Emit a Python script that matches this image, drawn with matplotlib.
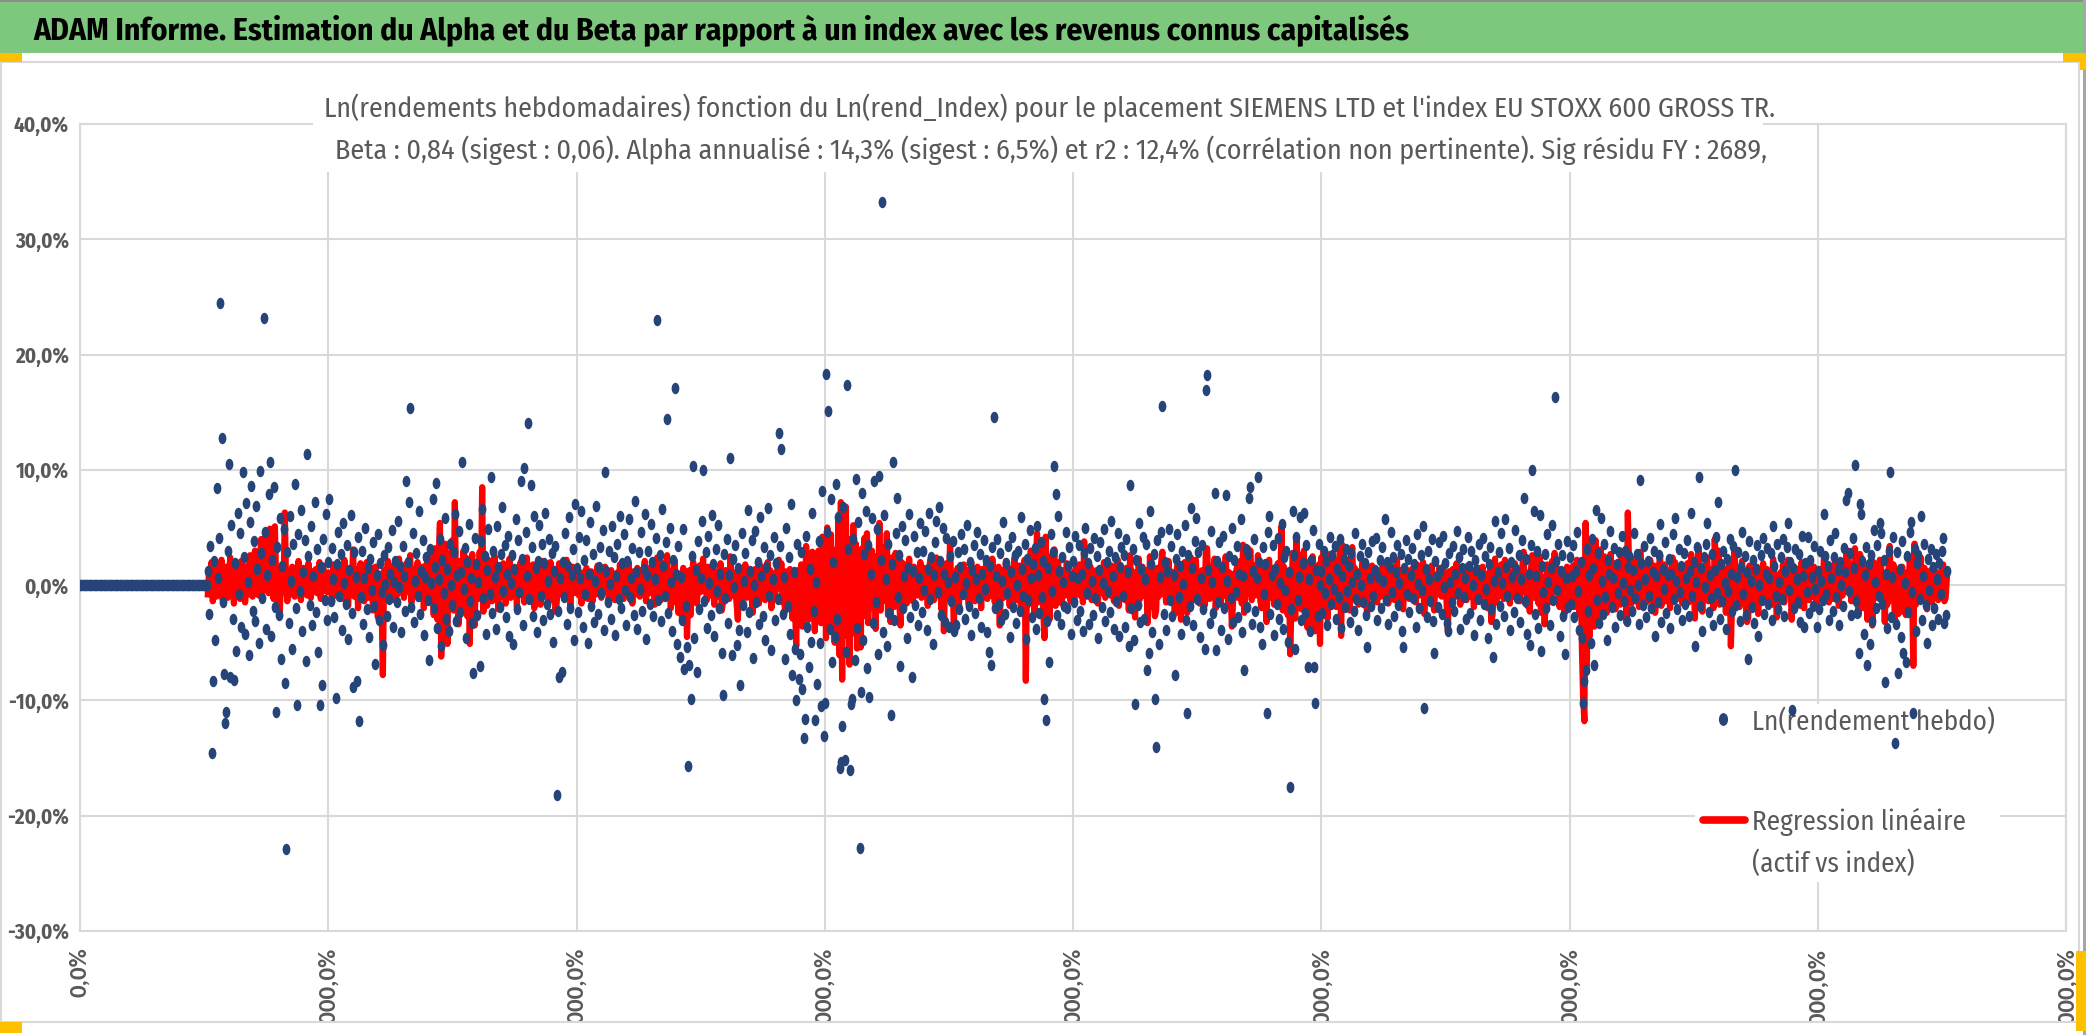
import numpy as np
import matplotlib.pyplot as plt
from matplotlib import font_manager
from matplotlib.patches import Rectangle
from matplotlib.lines import Line2D
from matplotlib.path import Path
from matplotlib.transforms import Affine2D
from matplotlib.ticker import FuncFormatter, MultipleLocator

# --- dimensions (pixels) ---
W, H = 2086, 1035
DPI = 100

# --- textes ---
TITRE = ("ADAM Informe. Estimation du Alpha et du Beta par rapport à un index "
         "avec les revenus connus capitalisés")
SOUS_TITRE_1 = ("Ln(rendements hebdomadaires) fonction du Ln(rend_Index) pour le placement "
                "SIEMENS LTD et l'index EU STOXX 600 GROSS TR.")
SOUS_TITRE_2 = ("Beta : 0,84 (sigest : 0,06). Alpha annualisé : 14,3% (sigest : 6,5%) et r2 : "
                "12,4% (corrélation non pertinente). Sig résidu FY : 2689,")
LEGENDE_1 = "Ln(rendement hebdo)"
LEGENDE_2 = "Regression linéaire"
LEGENDE_3 = "(actif vs index)"

# --- données (en %) ---
N_ZERO = 103
rend_zero = [0.0] * N_ZERO

# semaines 103 à 199
rend_s1 = [1.2, -2.5, 3.4, -14.6, -8.3, 2.1, -4.8,
           8.4, 0.6, 4.1, 24.5, 12.8, -1.5, -7.7, -12.0, -11.0, 3.0,
           10.5, -8.0, 5.2, -2.9, -8.2, 1.9, -5.7, 6.3, -0.8, 4.5,
           -3.6, 9.8, 2.4, -4.2, 7.1, 0.3, -6.1, 5.5, 8.6, -2.2,
           3.8, -3.1, 6.9, 1.4, -5.0, 9.9, 2.8, -1.1, 23.2, 4.6,
           -3.8, 0.9, 7.9, 10.7, -4.4, 2.2, 8.5, -1.9, -11.0, 3.3,
           -2.6, 5.8, -6.4, 1.7, 4.9, -8.5, -22.9, 2.9, -3.3, 6.0,
           0.4, -5.5, 3.6, 8.8, -2.0, -10.4, 4.4, -0.5, 6.5, -4.0,
           1.1, 3.9, -6.6, 11.4, 2.5, -1.7, 5.1, -3.5, 0.8, 7.2,
           -2.3, 3.1, -5.8, -10.4, 1.6, -8.7, 4.0, -1.3, 6.2, -3.0]
# semaines 200 à 399
rend_s2 = [2.0, 7.5, -1.4, 3.2, 0.5, -2.8, -9.8, 1.8, 4.6, -0.9,
           2.7, -3.9, 5.4, 0.2, -1.6, 3.5, -4.7, 1.3, 6.1, -2.4,
           -8.8, 2.9, 0.7, -8.3, 4.2, -11.8, -1.0, 3.0, -3.4, 0.6,
           5.0, -2.1, 1.5, -4.5, 2.3, -0.4, 3.7, -1.8, -6.8, 0.9,
           4.4, -3.0, 1.9, -0.6, -5.2, 2.6, 0.1, -2.7, 3.3, -1.2,
           1.0, 4.8, -3.6, 0.3, 2.1, -1.5, 5.6, -0.2, 1.7, -4.1,
           3.4, 0.8, -2.2, 9.0, 2.0, 7.2, 15.4, -1.9, 4.5, -3.2,
           0.4, 2.8, -0.9, 6.4, -2.5, 1.2, 3.9, -4.3, 0.7, 2.4,
           -1.3, -6.5, 3.1, 0.2, 7.5, -2.0, 1.6, 8.9, -3.7, 0.5,
           4.0, -5.3, 2.2, -0.7, 5.8, -2.9, 1.4, -4.0, 3.6, 0.0,
           -1.7, 2.9, 6.2, -3.1, 0.9, 4.7, -2.3, 1.1, 10.7, -0.3,
           3.2, -4.6, 2.0, 5.3, -1.4, 0.6, -3.3, -7.6, 4.1, 1.8,
           -2.6, 0.3, -7.0, 3.8, 6.6, -1.1, 2.5, -4.2, 1.3, 4.9,
           -0.8, 9.4, -2.4, 3.0, 0.7, -3.8, 5.1, 1.6, -1.9, 2.7,
           6.8, -0.5, 3.5, -2.8, 1.0, 4.3, -4.4, 0.2, 2.6, -5.1,
           1.4, 5.7, -2.1, 3.9, -0.6, 9.0, 2.3, -3.5, 10.2, 4.6,
           0.8, 14.1, -1.2, 8.7, 3.3, -2.7, 6.0, 1.5, -4.1, 2.1,
           5.2, -0.9, 3.6, -3.0, 1.9, 6.3, -1.6, 0.4, 4.0, -2.5,
           2.8, -4.9, 1.2, 3.4, -18.2, -2.2, -8.0, 0.6, -7.5, 2.0,
           -1.0, 4.5, -3.4, 1.7, 5.9, -2.0, 0.9, 3.1, -4.8, 7.0]
# semaines 400 à 599
rend_s3 = [1.5, -2.3, 4.2, 0.6, 6.4, -3.6, 2.2, -0.8, 3.9, -5.0,
           1.0, 5.5, -1.8, 2.7, -3.2, 0.4, 6.9, -2.5, 1.6, 3.3,
           -0.7, 4.8, -3.9, 9.8, 1.2, -1.5, 3.0, 0.1, -2.9, 5.1,
           2.4, -4.3, 0.8, 3.6, -1.2, 6.0, -2.0, 1.9, 4.4, -0.4,
           -3.5, 2.1, 5.7, -1.0, 0.6, 3.2, -2.6, 7.3, 1.1, -3.8,
           2.9, -0.3, 4.6, -2.2, 1.4, 6.2, -4.7, 0.9, 3.0, -1.6,
           5.3, 2.0, -2.7, 0.5, 4.1, 23.0, -1.3, 2.6, -3.1, 6.6,
           1.7, -0.9, 3.7, 14.4, -2.4, 5.0, 0.3, -4.0, 2.2, 17.1,
           1.0, -5.1, 3.4, -6.2, 0.7, -3.0, 4.9, -7.3, -1.8, -5.4,
           -15.7, -6.9, -9.9, 2.5, 10.3, -4.6, 1.3, -7.5, 3.8, -2.1,
           0.6, 5.6, 10.0, -1.4, 2.9, -3.7, 4.3, 0.2, -2.6, 6.1,
           1.8, -4.4, 3.1, -0.5, 5.2, -2.0, 1.0, -5.9, -9.5, 2.7,
           -1.1, 4.0, -3.3, 0.9, 11.0, -6.1, 2.3, -0.2, 3.5, -5.2,
           1.5, -3.9, -8.7, 4.5, -1.7, 0.4, 2.8, -4.1, 6.5, -2.3,
           1.2, 3.9, -6.3, 0.0, 4.7, -1.5, 2.0, -3.4, 5.9, 0.8,
           -2.7, 3.3, -4.8, 1.6, 6.7, -0.9, 2.6, -5.6, 0.5, 4.2,
           -3.0, 1.9, -1.2, 13.2, 3.4, 11.8, -2.5, 0.7, -6.4, 5.0,
           -1.8, 2.4, -4.2, 7.0, -7.8, 1.1, -5.5, -10.0, 3.6, -8.1,
           -6.0, 2.9, -9.0, -13.3, -11.6, 4.3, -3.6, -7.1, 1.4, -4.9,
           6.3, -2.2, -11.7, 0.3, -8.6, 3.8, -5.0, -10.5, 8.2, -13.1]
# semaines 600 à 799
rend_s4 = [-10.2, 18.3, 4.6, 15.1, -3.8, 7.5, -6.7, 2.0, -4.5, 8.8,
           -2.9, 5.9, -15.9, -15.3, -12.2, 6.8, -15.2, -5.8, 17.4, 3.1,
           -16.0, -10.3, -9.9, 4.0, -6.5, 9.2, -3.7, 5.5, -22.8, -9.3,
           8.0, -4.8, 2.7, 6.4, -7.2, 3.5, -9.7, 1.0, 5.8, -3.3,
           9.0, -1.5, 4.9, -6.0, 9.5, 2.2, 33.2, -4.1, 6.1, 0.5,
           -5.3, 3.6, -2.4, -11.3, 1.8, 10.7, -3.0, 4.5, 7.6, -1.0,
           2.6, -7.0, 5.1, -2.0, 0.8, 3.9, -4.6, 1.5, 6.2, -2.8,
           -8.0, 1.2, 4.3, -1.7, 2.9, -3.5, 0.6, 5.4, -2.3, 3.0,
           -0.4, 4.7, -3.9, 1.4, 6.3, -1.2, 2.4, -5.1, 0.9, 3.7,
           5.6, -0.6, 6.8, 2.1, -2.6, 5.0, 1.0, -3.2, 4.1, 0.3,
           -3.6, 2.5, -1.4, 3.8, -4.0, 0.7, -3.5, 2.9, -2.1, 1.6,
           4.4, -0.8, 3.1, -2.9, 0.2, 5.2, -1.8, 2.0, -4.3, 1.3,
           3.5, -2.4, 0.5, 4.6, -1.1, 2.7, -3.6, 1.0, 3.9, -0.3,
           2.2, -4.1, -5.8, 1.7, -6.9, 3.3, 14.6, -2.0, 0.8, 4.0,
           -1.6, 2.8, -3.0, 0.4, 5.5, -2.5, 1.9, -0.7, 3.4, -4.5,
           1.1, 4.2, -1.9, 2.6, -3.3, 0.0, 3.0, -2.2, 5.9, 1.4,
           -0.9, 3.6, -4.7, 2.3, -1.3, 4.8, 0.6, -2.8, 1.8, 3.2,
           -3.8, 5.1, 0.9, -2.4, 3.7, -1.0, 2.1, -9.9, -11.7, -3.1,
           1.5, -6.7, 4.4, -0.5, 2.9, 10.3, 7.9, -2.6, 6.0, 1.2,
           -3.4, 2.4, 0.3, -1.8, 4.6, -2.0, 1.7, 3.3, -4.2, 0.8]
# semaines 800 à 999
rend_s5 = [2.1, -1.5, 4.3, -3.0, 0.6, 3.5, -2.2, 1.0, -4.0, 2.8,
           5.0, -0.7, 1.9, -3.4, 3.2, 0.4, -2.6, 4.1, -1.1, 2.5,
           -4.6, 1.3, 3.7, -1.9, 0.2, 4.9, -3.1, 2.0, -0.5, 3.0,
           -2.3, 5.6, 0.8, -3.8, 2.4, -1.4, 4.5, -4.4, 1.6, 3.3,
           -0.9, 2.6, -3.6, 4.0, 1.1, -5.3, 8.7, -2.0, 3.1, -4.8,
           -10.3, 2.2, -1.7, 5.4, -3.2, 1.4, 4.2, -2.9, 0.5, 3.6,
           -7.4, -5.9, 6.4, 1.8, -4.1, 2.7, -9.9, -14.0, 3.9, -5.1,
           0.7, 4.6, 15.5, -2.5, 2.0, -3.9, 1.2, 4.9, -1.3, 3.4,
           -2.7, 0.9, -7.8, 2.3, 4.4, -1.0, 1.7, -4.2, 3.0, 0.1,
           5.2, -3.0, -11.1, 2.6, -1.8, 6.7, 1.5, -3.5, 3.8, 5.8,
           -1.2, 2.9, -4.5, 0.6, 3.5, -2.1, -5.5, 16.9, 18.2, 1.3,
           -3.3, 4.7, 0.3, -2.4, 8.0, -5.6, 2.1, -1.5, 3.7, -3.9,
           1.6, 4.3, -2.0, 7.8, 0.4, -4.7, 2.5, -1.1, 5.0, -3.2,
           2.2, -0.6, 3.4, -2.8, 1.0, 5.7, -4.1, 0.8, -7.4, 3.1,
           -1.9, 2.7, 7.6, 8.5, -3.4, 1.2, 4.0, -2.2, 0.6, 9.4,
           2.0, -3.6, -5.1, 3.3, -0.8, 1.8, -11.1, 4.6, 6.0, -2.5,
           0.9, 3.5, -4.3, 1.4, -1.6, 4.1, -2.9, 0.2, 5.3, -3.8,
           2.4, -0.4, 3.0, -4.9, 1.1, -17.5, -2.1, 6.4, 2.6, -5.5,
           4.2, -1.3, 0.7, 5.9, -3.0, 1.9, 6.3, -2.4, 3.5, -7.1,
           0.5, -4.0, 2.2, 4.8, -7.1, -10.2, 1.3, -2.7, 3.6, 0.0]
# semaines 1000 à 1199
rend_s6 = [1.2, -2.4, 3.0, -0.7, 2.1, -3.5, 0.5, 4.2, -1.6, 2.6,
           -0.3, 3.4, -2.9, 1.4, -1.0, 4.0, -3.7, 0.8, 2.3, -1.9,
           3.1, -0.5, 1.7, -3.2, 2.8, 0.3, -2.2, 4.5, -1.2, 1.0,
           -3.9, 2.5, 0.0, 3.6, -1.5, 1.9, -2.6, -5.4, 2.9, 0.6,
           -1.8, 3.8, -0.9, 1.3, 4.1, -3.0, 0.7, 2.2, -2.0, 3.3,
           0.4, 5.7, -1.3, 2.0, -3.4, 1.6, 4.6, -0.6, 2.4, -2.7,
           1.1, 3.5, -1.7, 0.2, 2.7, -4.0, -5.4, 1.5, 3.9, -0.8,
           2.3, -2.3, 0.9, 3.2, -1.1, 1.8, -3.6, 4.4, 0.1, -2.0,
           2.6, -0.4, 5.1, -10.7, 1.4, -2.8, 3.0, 0.5, -1.4, 4.0,
           -3.1, -5.9, 2.1, 0.8, -1.9, 3.7, 1.2, -2.5, 4.3, -0.2,
           1.9, -3.3, -4.0, 2.8, 0.3, -1.5, 3.4, -2.2, 1.0, 4.7,
           -0.7, 2.4, -3.8, 1.5, 3.1, -1.0, 0.6, -2.9, 4.2, 1.7,
           -2.4, 3.0, 0.0, -4.3, 2.2, 1.3, -1.2, 3.6, -3.0, 0.9,
           4.1, -1.6, 2.5, -0.3, -4.6, 1.8, 3.3, -2.1, -6.2, 0.4,
           5.6, -3.4, 1.1, 2.9, -1.8, 4.5, 0.2, -2.7, 5.7, 1.6,
           -0.9, 3.2, -3.9, 2.0, 0.7, -2.3, 4.8, 1.4, -1.1, 2.6,
           -3.2, 0.5, 3.9, 7.6, -1.4, 2.3, -4.2, 1.0, -5.2, 3.5,
           10.0, 6.4, -2.5, 0.8, 3.0, -3.7, 6.1, -5.7, 1.7, -0.6,
           2.7, -2.0, 4.4, 0.3, -3.5, 1.5, 5.2, -1.3, 16.3, 2.1,
           -0.4, 3.6, -4.4, 1.2, 2.6, -2.7, -6.0, 0.6, 3.8, -1.9]
# semaines 1200 à 1399
rend_s7 = [2.4, -1.6, 0.8, 3.5, -2.8, 1.2, 4.6, -0.5, -3.9, 2.0,
           -4.6, -10.2, -8.3, -7.4, 3.1, -2.2, 0.9, -5.0, 4.0, 1.5,
           -6.9, 6.5, -1.3, 2.8, -3.3, 5.8, 0.4, -2.5, 3.6, -1.0,
           -4.8, 2.2, 1.0, 4.7, -1.9, 0.6, 3.2, -3.6, 1.8, -0.7,
           2.9, -2.6, 4.3, 0.2, -1.4, 3.0, -3.1, 1.6, 2.5, -0.4,
           -2.2, 1.3, 4.5, -1.1, 2.7, 0.0, -3.4, 9.1, 1.9, -1.7,
           3.4, 0.5, -2.8, 2.1, -0.9, 4.1, -2.0, 1.1, 3.0, -4.4,
           0.8, -1.5, 2.6, 5.3, -3.2, 1.4, -0.3, 3.7, -2.4, 0.9,
           2.3, -3.7, 1.0, 4.4, -1.2, 5.8, 0.4, -2.1, 3.1, -0.6,
           1.7, -3.0, 2.8, -1.6, 0.6, 3.9, -2.7, 1.2, 6.3, -0.9,
           2.0, -5.3, 0.3, 3.3, 9.4, -1.8, 1.5, -4.0, 2.4, -0.2,
           3.6, 5.4, -2.3, 0.9, -1.1, 2.7, -3.5, 1.3, 4.2, -0.7,
           7.2, -2.9, 1.8, -1.4, 3.0, 0.2, -3.8, 2.3, -0.5, 4.0,
           1.0, -2.2, 3.4, 10.0, -1.7, 0.7, 2.9, -3.1, 1.6, 4.6,
           -0.8, 2.5, -2.6, 1.1, -6.4, 3.8, 0.4, -1.9, 2.2, -3.3,
           1.4, 3.5, -4.4, 0.0, 2.6, -1.3, 4.1, -2.5, 1.0, 3.2,
           -1.6, 0.6, 2.8, -3.0, 5.1, 1.7, -0.9, 3.6, -2.1, 0.3,
           2.4, -1.2, 4.0, -2.7, 1.2, 3.3, 5.4, -0.4, 2.0, -10.8,
           1.5, -2.0, 3.1, 0.5, -1.5, 2.7, -3.2, 4.3, 0.8, -3.6,
           1.9, -0.6, 4.2, -2.4, 2.2, 0.7, -1.8, 3.4, -0.3, -3.6]
# semaines 1400 à 1504
rend_s8 = [1.2, -2.1, 3.0, 0.4, -1.3, 6.2, 2.5, -0.8, 1.7, -3.0,
           3.9, 0.6, -2.2, 2.4, 4.5, -1.0, 1.3, -3.5, 2.0, 0.0,
           -1.8, 3.2, 1.1, 7.4, 8.0, -0.5, 2.8, -2.6, 4.1, 1.5,
           10.4, -1.4, -2.4, -5.9, 7.0, 6.2, 2.1, -4.2, 0.9, 3.3,
           -6.9, 1.8, -5.1, 2.6, -3.1, 4.8, 0.3, -2.0, 3.5, -0.9,
           5.4, 4.5, -1.6, 2.2, -8.4, 1.0, -3.7, 3.0, 9.8, -2.8,
           0.7, 4.2, -13.7, -3.4, 2.9, -7.6, 1.4, -4.5, 3.8, -5.9,
           0.2, -6.7, 2.5, -2.3, 4.6, 5.5, -0.6, -11.1, 3.1, -4.0,
           1.9, 2.6, -1.2, 6.0, -3.0, 0.8, 3.6, -1.7, -5.0, 2.3,
           -0.4, 3.1, -3.5, 1.6, -2.0, 2.7, 0.5, -2.9, 1.9, -0.8,
           3.0, 4.1, -3.3, -2.6, 1.2]

# droite de régression (actif vs index), semaines 103 à 1504
reg_s1 = [-0.8, 1.2, -0.5, 2.0, -1.4, 0.6, 1.5,
          -1.0, 0.3, 1.8, -0.7, 2.2, -1.3, 0.9, -0.2, 1.6, -1.1,
          0.5, 2.4, -0.9, 1.1, -1.6, 0.8, 1.9, -0.4, 1.3, -1.2,
          2.1, -0.6, 1.0, -1.5, 0.4, 1.7, -0.8, 2.6, 0.1, -1.0,
          1.4, 3.0, -0.3, 1.2, -0.9, 2.3, 4.0, 0.6, -0.5, 3.2,
          4.5, 1.0, -0.7, 4.9, 0.8, 2.0, -1.2, 5.1, 0.4, 1.5,
          -2.1, -2.3, 0.9, 1.8, -0.6, 6.3, 0.2, -1.4, 1.1, 0.5,
          -0.8, 1.6, 0.3, -1.0, 1.3, -0.4, 2.1, 0.7, -1.3, 0.9,
          1.5, -0.2, 0.6, -0.9, 1.9, 0.2, -1.1, 1.2, -0.5, 0.8,
          1.4, -0.7, 0.4, 2.0, -1.2, 0.6, 1.7, -0.3, 0.9, -0.6]
reg_s2 = [1.1, -0.4, 0.7, -1.5, 1.8, 0.2, -0.9, 1.3, -0.6, 0.5,
          1.6, -1.2, 0.3, 2.2, -0.8, 0.9, -1.8, 1.0, 0.4, -0.3,
          3.1, -1.0, 0.6, 1.4, -2.0, 0.8, 1.9, -0.5, 1.2, -1.4,
          0.3, 2.0, -1.1, 0.7, -0.2, 1.5, -2.2, 0.9, 1.6, -0.7,
          -2.8, 1.0, 0.4, -1.6, -7.8, 1.3, -0.6, 0.8, 2.1, -1.0,
          0.6, -0.3, 1.7, -1.3, 0.2, 1.1, -0.8, 2.3, -0.4, 0.9,
          1.5, -1.1, 0.3, 1.9, -0.6, 1.2, 2.6, -1.5, 0.7, 1.4,
          -0.9, 0.5, 2.0, -1.2, 1.0, -0.3, 1.6, -2.0, 0.4, 1.8,
          -1.4, 0.8, 2.4, -0.7, 1.3, -2.6, 3.2, 0.2, -3.0, 2.5,
          5.4, -6.2, 1.1, -2.4, 3.6, -1.0, -5.1, 2.8, -1.7, 0.6,
          3.9, -2.2, 7.2, -1.3, 1.5, -3.4, 2.1, 0.4, -1.9, 3.0,
          -0.8, 2.4, -2.7, 1.2, -5.1, 0.9, 2.7, -1.6, -3.5, 1.8,
          0.3, -1.2, 2.9, -0.4, 8.5, -2.3, 1.4, 0.6, -1.8, 2.2,
          -0.5, 1.3, -1.4, 0.8, 2.5, -0.9, 1.0, -2.1, 1.7, 0.2,
          -1.0, 1.9, 0.5, -1.6, 1.2, -0.3, 2.3, -1.1, 0.7, 1.4,
          -0.6, 1.0, -1.9, 1.6, 0.1, 2.0, -0.8, 1.3, -1.5, 0.6,
          2.4, -0.7, 1.1, -1.3, 0.4, 1.8, -2.0, 0.9, 1.5, -0.5,
          0.8, -1.7, 2.1, -0.2, 1.0, -1.0, 1.7, 0.3, -1.4, 2.0,
          -0.9, 0.6, 1.4, -2.3, -1.6, 0.5, 1.9, -0.8, 0.2, 1.2,
          -1.2, 0.7, 2.2, -0.4, 1.0, -1.8, 0.4, 1.6, -0.7, 0.9]
reg_s3 = [0.4, 1.3, -0.9, 0.8, -1.6, 1.1, 0.2, -0.7, 1.5, -1.2,
          0.6, -0.3, 1.2, -1.4, 0.9, 0.1, -0.8, 1.7, -0.5, 0.4,
          -1.1, 1.0, 0.3, 1.6, -0.6, 0.8, -1.5, 0.5, 1.3, -0.2,
          0.9, -1.3, 0.4, 1.1, -0.7, 1.8, -0.4, 0.6, -1.2, 1.4,
          -0.3, 0.7, 2.0, -0.9, 0.5, -1.6, 1.2, 0.2, -0.8, 1.5,
          0.1, -1.0, 1.3, -0.5, 0.9, 2.1, -1.4, 0.4, 1.0, -0.7,
          1.6, -0.2, 0.8, -1.7, 1.1, 2.4, -0.6, 0.5, -1.3, 1.9,
          0.3, -0.9, 1.4, 2.6, -1.1, 0.7, -2.0, 1.2, 0.4, 2.2,
          -1.5, 0.6, -2.4, 1.0, -0.3, -2.8, 1.5, -1.9, 0.8, -4.5,
          -1.2, 1.3, -2.6, 0.5, 2.0, -0.8, 1.1, -1.6, 0.3, 1.7,
          -0.6, 1.0, 2.3, -0.4, 0.9, -1.3, 1.6, 0.2, -0.9, 1.4,
          0.5, -1.7, 1.2, -0.2, 0.8, -1.0, 1.9, -2.2, -1.5, 0.7,
          1.3, -0.5, 0.4, -1.2, 2.5, -0.9, 0.6, 1.1, -0.3, -1.8,
          -3.0, 0.9, -1.4, 1.5, -0.6, 0.3, 1.8, -1.1, 0.7, -0.4,
          1.2, -0.8, -2.4, 0.6, 1.4, -0.2, 0.9, -1.6, 1.7, 0.1,
          -0.7, 1.1, -1.3, 0.4, 2.0, -0.5, 1.3, -2.0, 0.8, 1.0,
          -1.0, 0.5, 1.6, 2.2, -0.3, 1.9, -1.5, 0.2, -2.3, 1.2,
          0.6, -1.1, 1.4, -0.8, -2.9, 0.9, -1.7, -5.3, 1.3, -3.1,
          -2.0, 1.8, -3.6, 0.7, -2.5, 3.4, -1.2, -3.0, 2.1, -1.8,
          2.9, -0.6, -4.0, 1.5, -2.7, 3.0, -1.4, -3.3, 4.2, -2.2]
reg_s4 = [3.5, -4.6, 5.0, -2.8, 1.6, 4.4, -3.9, 2.2, -5.0, 3.1,
          -2.0, 5.8, -6.1, 7.2, -8.2, 2.6, -4.4, 6.8, -3.0, 4.0,
          -6.9, 1.8, -4.2, 5.2, -2.4, 3.6, -5.5, 2.0, -3.6, -5.4,
          3.2, -1.5, 4.1, -2.7, 4.5, -3.3, 1.4, -2.0, 3.0, -1.0,
          2.5, -3.8, 1.6, -0.9, 5.4, -2.2, 3.3, -1.4, 2.1, -0.6,
          4.5, -2.6, 1.2, -3.2, 2.4, 0.5, -1.9, 2.8, -0.7, 1.5,
          -1.3, -3.5, 2.0, -0.4, 1.1, 1.8, -1.6, 0.6, 2.3, -0.8,
          0.9, -1.4, 1.6, 0.2, -0.9, 1.3, -0.3, 2.0, -1.1, 0.7,
          1.5, -0.6, 0.4, -1.8, 1.2, 2.2, -0.5, 0.8, -1.3, 1.0,
          2.4, -0.9, 1.7, 0.3, -2.1, 1.4, -4.0, 0.6, 1.9, -1.2,
          0.5, 3.8, -1.6, 1.0, -3.7, 0.8, -0.4, 1.5, -2.2, 1.1,
          0.2, -1.0, 1.8, -0.6, 1.3, 0.4, -1.7, 0.9, 2.0, -0.8,
          1.2, -1.4, 0.3, 1.6, -0.7, 0.9, -2.0, 1.4, 0.6, -0.5,
          1.9, -1.2, 0.5, 1.1, -0.9, 2.3, 0.2, -1.5, 1.0, -0.3,
          1.6, -3.5, 0.7, 1.3, -1.1, 0.4, 2.1, -0.6, 1.2, -1.8,
          0.8, 1.5, -0.4, 2.4, -1.3, 0.9, -0.2, 1.7, -2.4, 1.0,
          0.3, 2.2, -8.3, 1.4, -1.7, 0.6, 3.0, -1.0, 1.8, -2.6,
          0.9, 4.5, -1.5, 2.8, -0.8, 3.4, -2.1, -4.6, 4.2, -1.2,
          1.6, -3.0, 2.5, -0.7, 1.2, 3.1, -1.8, 0.5, 2.0, -1.0,
          0.8, -1.6, 1.3, 0.1, -0.9, 1.9, -0.4, 1.1, -1.4, 0.6]
reg_s5 = [0.9, -1.2, 1.4, -0.5, 0.7, 1.8, -0.9, 0.3, -1.5, 3.8,
          0.4, -1.0, 1.1, -0.3, 1.6, -1.3, 0.8, 0.2, -0.8, 1.3,
          -1.6, 0.6, 1.2, -0.7, 0.9, 2.0, -1.1, 0.5, -0.4, 1.4,
          -0.9, 1.7, 0.3, -1.4, 1.0, -0.2, 2.2, -1.8, 0.6, 1.1,
          -0.5, 0.9, -1.3, 1.5, 0.2, -2.2, 2.6, -0.7, 1.2, -1.6,
          -2.8, 1.0, -0.4, 2.3, -1.2, 0.7, 1.6, -0.9, 0.4, 1.3,
          -3.3, -1.4, 2.5, 0.6, -1.9, 1.1, -2.7, -2.2, 1.5, -1.0,
          0.3, 1.9, 2.9, -0.8, 0.9, -1.5, 0.5, 2.1, -0.6, 1.2,
          -1.1, 0.4, -2.5, 0.8, 1.7, -0.3, 1.0, -3.0, 1.4, -0.2,
          2.0, -1.2, -2.4, 0.9, -0.5, 2.4, 0.6, -1.3, 1.5, 2.2,
          -0.7, 1.0, -1.6, 0.3, 1.3, -0.9, -1.8, 2.8, 3.2, 0.5,
          -1.2, 1.6, 0.1, -0.8, 2.3, -2.0, 0.9, -0.6, 1.4, -1.5,
          0.7, 1.8, -0.9, 2.5, 0.2, -1.7, 1.1, -0.5, -3.6, -1.3,
          1.0, -0.3, 1.5, -1.1, 0.6, 2.1, -1.6, 3.5, -2.4, 1.2,
          -0.8, 3.2, 2.7, 3.0, -1.3, 0.5, 1.7, -0.9, 0.3, 2.6,
          0.8, -1.4, -2.0, 1.3, -0.4, 0.7, -3.2, 1.8, 2.2, -1.1,
          0.4, 1.5, -1.7, 0.9, -0.6, 1.9, -1.3, 0.2, 5.1, -2.2,
          1.6, -0.5, 1.1, -2.6, 0.8, -6.0, -1.4, 2.8, 1.3, -2.9,
          4.0, -1.0, 0.5, 2.6, -2.1, 1.2, 3.0, -1.8, 2.0, -3.7,
          0.7, -2.4, 1.4, 2.5, -3.2, -4.0, 0.9, -1.6, 1.8, -5.1]
reg_s6 = [2.4, -1.2, 3.1, -2.0, 0.8, -2.9, 1.5, 2.7, -1.6, 1.1,
          -0.6, 2.2, -1.9, 1.3, -0.4, 2.9, -4.4, 3.5, 0.6, -1.5,
          1.8, -0.7, 0.9, -2.2, 2.4, 3.3, -1.1, 1.5, -0.8, 0.4,
          -1.7, 1.2, 0.2, 1.9, -0.9, 0.7, -1.4, -2.4, 1.6, 0.3,
          -0.8, 1.7, -0.3, 0.6, 1.4, -1.5, 0.5, 1.1, -1.0, 1.5,
          0.2, 1.9, -0.7, 0.8, -1.6, 0.9, 1.6, -0.4, 1.2, -1.3,
          0.5, 2.2, -1.0, 0.3, 1.3, -1.8, -2.1, 0.7, 1.5, -0.5,
          1.1, -1.2, 0.4, 1.4, -0.6, 0.9, -1.5, 1.8, 0.1, -0.9,
          1.2, -0.3, 2.0, -2.5, 0.6, -1.1, 1.3, 0.2, -0.7, 1.7,
          -1.4, -2.2, 0.9, 0.4, -0.8, 1.5, 0.5, -1.0, 1.6, -0.2,
          0.8, -1.6, -4.0, 1.2, 0.1, -0.7, 1.4, -1.1, 0.5, 1.9,
          -0.4, 1.0, -1.7, 0.6, 1.3, -0.5, 0.3, -1.3, 1.7, 0.7,
          -1.0, 1.2, 0.0, -1.9, 0.9, 0.5, -0.6, 1.5, -1.4, 0.4,
          1.6, -0.8, 1.0, -0.2, -2.0, 0.7, 1.3, -3.2, -2.6, 0.2,
          2.3, -1.5, 0.5, 1.1, -0.9, 1.8, 0.1, -1.2, 2.2, 0.6,
          -0.4, 1.3, -1.6, 0.8, 0.3, -1.0, 1.9, 0.6, -0.5, 1.0,
          -1.4, 0.2, 1.5, 2.9, -0.6, 0.9, -1.8, 0.4, -2.3, 1.4,
          2.6, 2.4, -1.1, 0.3, 1.2, -1.6, 2.5, -2.4, 0.7, -0.3,
          -3.4, -0.9, 1.8, 0.1, -1.5, 0.6, 2.1, -0.6, 2.8, 0.9,
          -0.2, 1.4, -1.9, 0.5, 1.1, -1.2, -2.5, 0.3, 1.6, -0.8]
reg_s7 = [0.9, -1.3, 0.4, 1.7, -1.9, 0.6, 2.2, -0.8, -2.5, 2.0,
          -5.5, -9.8, -11.8, 5.4, -7.0, 3.0, -4.5, 3.6, -1.2, 2.4,
          -3.6, 3.9, -0.9, 1.6, -2.7, 3.1, 0.5, -1.8, 2.5, -0.6,
          -2.4, 1.4, 0.3, 2.7, -1.5, 0.8, 1.9, -2.1, 1.2, -0.4,
          1.6, -1.7, 2.8, 0.2, -1.0, 2.1, -3.3, 6.3, 1.5, -0.9,
          -1.6, 0.7, 2.3, -0.6, 1.4, 0.1, -1.9, 2.9, 0.8, -1.2,
          1.9, 0.3, -1.5, 1.2, -0.5, 2.2, -1.3, 0.6, 1.7, -2.4,
          0.4, -0.9, 1.5, 2.6, -1.8, 0.9, -0.2, 1.8, -1.4, 0.5,
          1.3, -2.0, 0.6, 2.4, -0.7, 2.0, 0.2, -1.2, 1.6, -0.4,
          0.9, -1.6, 1.4, -0.8, 0.3, 1.9, -1.5, 0.7, 2.7, -0.6,
          1.1, -2.9, 0.4, 1.6, 3.3, -1.1, 0.8, -2.3, 1.3, -0.2,
          1.9, 2.4, -1.4, 0.5, -0.8, 1.4, -2.0, 4.0, 2.0, -0.5,
          3.0, -1.7, 0.9, -0.9, 1.5, 0.1, -2.4, 1.2, -0.4, 1.8,
          -5.3, -1.3, 1.6, 3.2, -1.0, 0.4, 1.3, -1.9, 0.8, 2.1,
          -0.6, 1.2, -1.6, -3.2, -2.8, 1.7, 0.3, -1.1, 1.0, -1.8,
          0.7, 1.6, -2.5, 0.1, 1.3, -0.8, 1.9, -1.4, 0.5, 1.4,
          -0.9, 0.4, 1.2, -1.7, 2.3, 0.8, -0.5, -2.8, -1.3, 0.2,
          1.1, -0.7, 1.8, -1.5, 0.6, 1.4, 2.2, -0.3, 0.9, -3.0,
          0.7, -1.2, 1.5, 0.2, -0.9, 1.2, -1.8, 2.0, 0.4, -2.0,
          1.0, -0.4, 1.9, -1.3, 1.1, 0.3, -1.0, 1.6, -0.2, -1.9]
reg_s8 = [0.6, -1.1, 1.4, 0.2, -0.7, 2.5, 1.0, -0.4, 0.9, -1.5,
          1.7, 0.3, -1.2, 1.1, 2.0, -0.6, 0.7, -1.8, 1.0, 0.1,
          -0.9, 1.5, 0.5, 2.8, 3.0, -0.3, 1.2, -1.4, 1.8, 0.6,
          3.2, -0.8, -1.3, -2.6, 2.7, 2.3, 0.9, -2.0, 0.4, 1.5,
          -3.0, 0.8, -2.2, 1.1, -3.5, 2.0, 0.2, -1.1, 1.6, -0.5,
          2.2, 1.8, -0.8, 1.0, -3.2, 0.5, -1.7, 1.3, 3.4, -1.3,
          0.3, 1.8, -2.9, -1.6, 1.2, -2.5, 0.7, -1.9, 1.6, -2.3,
          0.1, -2.6, 1.1, -1.0, 2.0, 2.3, -0.3, -7.0, 3.6, -1.7,
          0.9, 1.2, -0.6, 2.4, -1.3, 0.4, 1.5, -0.8, -2.1, 1.0,
          -0.2, 1.3, -1.5, 0.8, -0.9, 1.2, 0.3, -1.3, 0.9, -0.4,
          1.4, 1.8, -1.4, -1.1, 0.6]

# axes
X_MAX = 1600
X_PAS = 200
Y_MIN, Y_MAX, Y_PAS = -30, 40, 10

# couleurs
VERT = '#7DC87D'
BLEU = '#264478'
ROUGE = '#FF0000'
GRIS_TXT = '#595959'
GRIS_GRILLE = '#D9D9D9'
ORANGE = '#FFC000'


# --- polices ---
def choisir_police(candidates, defaut='Liberation Sans'):
    poids = {}
    for f in font_manager.fontManager.ttflist:
        try:
            poids.setdefault(f.name, set()).add(int(f.weight))
        except (TypeError, ValueError):
            pass
    for c in candidates:
        p = poids.get(c, set())
        if 400 in p and 700 in p:
            return c
    return defaut


ETROITE = choisir_police(['Fira Sans Condensed', 'PT Sans Narrow', 'Roboto Condensed',
                          'Asap Condensed', 'Archivo Narrow'])
CALIBRI = choisir_police(['Carlito', 'Lato', 'Open Sans'])


def fx(px):
    return px / W


def fy(py):
    return 1 - py / H


def fmt_pct(v, facteur=1):
    return f"{v * facteur:.1f}".replace('.', ',') + '%'


rendements = np.concatenate([rend_zero, rend_s1, rend_s2, rend_s3, rend_s4,
                             rend_s5, rend_s6, rend_s7, rend_s8])
regression = np.concatenate([reg_s1, reg_s2, reg_s3, reg_s4, reg_s5, reg_s6, reg_s7, reg_s8])
x_rend = np.arange(len(rendements))
x_reg = np.arange(N_ZERO, N_ZERO + len(regression))

# point ovale (la capture d'origine est comprimée en largeur)
POINT = Path(Affine2D().scale(0.68, 1.0).transform(Path.unit_circle().vertices),
             Path.unit_circle().codes)

fig = plt.figure(figsize=(W / DPI, H / DPI), dpi=DPI)
fig.patch.set_facecolor('white')
rendu = fig.canvas.get_renderer()


def taille_pour(texte, cible_px, famille, poids='normal', t0=20.0):
    # taille de police qui donne la largeur voulue (en pixels)
    t = fig.text(0, 0, texte, fontsize=t0, family=famille, fontweight=poids)
    w = t.get_window_extent(rendu).width
    t.remove()
    return t0 * cible_px / w


# bandeau titre
fig.add_artist(Rectangle((0, fy(2)), 1, 2 / H, transform=fig.transFigure,
                         facecolor='#8C8C8C', edgecolor='none', zorder=-2))
fig.add_artist(Rectangle((0, fy(53)), fx(2083), 51 / H, transform=fig.transFigure,
                         facecolor=VERT, edgecolor='none', zorder=-2))
fig.text(fx(33), fy(40), TITRE, fontsize=taille_pour(TITRE, 1377, ETROITE, 'bold'),
         fontweight='bold', family=ETROITE, color='black', ha='left', va='baseline')

# cadre du graphique
fig.add_artist(Rectangle((fx(1), fy(1022)), fx(2078), (1022 - 62) / H, transform=fig.transFigure,
                         fill=False, edgecolor=GRIS_GRILLE, lw=1.5, zorder=6))
fig.add_artist(Rectangle((0, 0), 1, fy(1023), transform=fig.transFigure,
                         facecolor='white', edgecolor='none', zorder=5))
fig.add_artist(Rectangle((fx(2083), 0), fx(3), 1, transform=fig.transFigure,
                         facecolor='#A6A6A6', edgecolor='none', zorder=6))
for x0, y0, w0, h0 in [(0, 53, 22, 9), (2063, 53, 20, 9), (2080, 53, 6, 17),
                       (0, 1022, 22, 11), (2076, 951, 10, 80)]:
    fig.add_artist(Rectangle((fx(x0), fy(y0 + h0)), w0 / W, h0 / H, transform=fig.transFigure,
                             facecolor=ORANGE, edgecolor='none', zorder=7))

# zone de tracé
ax = fig.add_axes([fx(80), fy(931), (2066 - 80) / W, (931 - 124) / H])
ax.set_zorder(1)
ax.patch.set_alpha(0)

ax.plot(x_reg, regression, color=ROUGE, lw=4.5, solid_joinstyle='round', zorder=2)
ax.scatter(x_rend, rendements, s=68, marker=POINT, color=BLEU, linewidths=0, zorder=3)

ax.set_xlim(0, X_MAX)
ax.set_ylim(Y_MIN, Y_MAX)
ax.xaxis.set_major_locator(MultipleLocator(X_PAS))
ax.yaxis.set_major_locator(MultipleLocator(Y_PAS))
ax.xaxis.set_major_formatter(FuncFormatter(lambda v, p: fmt_pct(v, 100)))
ax.yaxis.set_major_formatter(FuncFormatter(lambda v, p: fmt_pct(v)))
ax.grid(True, color=GRIS_GRILLE, lw=1.5)
ax.set_axisbelow(True)
for sp in ax.spines.values():
    sp.set_color(GRIS_GRILLE)
    sp.set_linewidth(1.5)
ax.tick_params(length=0, labelcolor=GRIS_TXT)
ax.tick_params(axis='y', pad=8)
ax.tick_params(axis='x', pad=12, labelrotation=90)
t_y = taille_pour('-10,0%', 61, ETROITE, 'bold')
t_x = taille_pour('0,0%', 50, CALIBRI, 'bold')
for lab in ax.get_yticklabels():
    lab.set_fontsize(t_y)
    lab.set_fontweight('bold')
    lab.set_family(ETROITE)
for lab in ax.get_xticklabels():
    lab.set_fontsize(t_x)
    lab.set_fontweight('bold')
    lab.set_family(CALIBRI)

# titre du graphique (fond blanc par-dessus la grille)
fig.add_artist(Rectangle((fx(313), fy(172)), (1763 - 313) / W, (172 - 80) / H,
                         transform=fig.transFigure, facecolor='white', edgecolor='none', zorder=2))
fig.text(fx(1050), fy(117), SOUS_TITRE_1, fontsize=taille_pour(SOUS_TITRE_1, 1453, ETROITE),
         family=ETROITE, color=GRIS_TXT, ha='center', va='baseline', zorder=3)
fig.text(fx(1051), fy(159), SOUS_TITRE_2, fontsize=taille_pour(SOUS_TITRE_2, 1436, ETROITE),
         family=ETROITE, color=GRIS_TXT, ha='center', va='baseline', zorder=3)

# légende
ax.add_patch(Rectangle((fx(1695), fy(882)), (2000 - 1695) / W, (882 - 704) / H,
                       transform=fig.transFigure, facecolor='white', edgecolor='none',
                       zorder=1, clip_on=False))
ax.add_line(Line2D([fx(1723)], [fy(719)], marker=POINT, ms=8.2, color=BLEU, ls='none',
                   transform=fig.transFigure, zorder=1.5, clip_on=False))
ax.add_line(Line2D([fx(1703), fx(1745)], [fy(820), fy(820)], color=ROUGE, lw=5.5,
                   solid_capstyle='round', transform=fig.transFigure, zorder=1.5, clip_on=False))
t_leg = taille_pour(LEGENDE_1, 242, ETROITE)
for texte, yb in [(LEGENDE_1, 730), (LEGENDE_2, 830), (LEGENDE_3, 872)]:
    ax.text(fx(1752), fy(yb), texte, transform=fig.transFigure, fontsize=t_leg, family=ETROITE,
            color=GRIS_TXT, ha='left', va='baseline', zorder=1.5, clip_on=False)

fig.savefig('out.png', dpi=DPI, facecolor='white')
